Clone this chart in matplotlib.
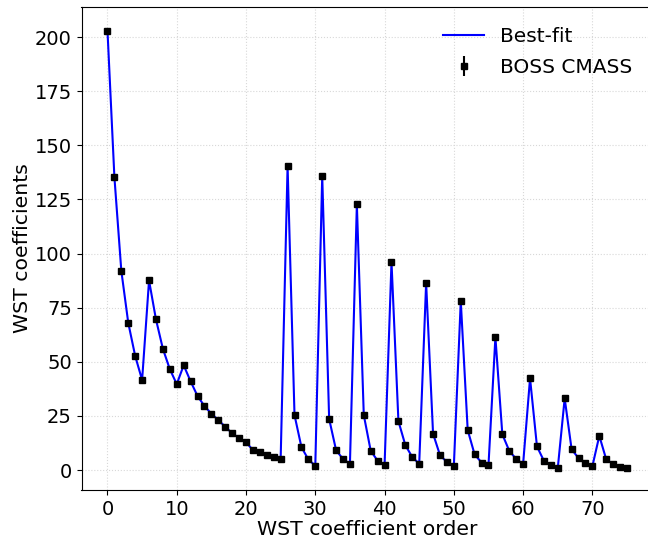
import matplotlib
matplotlib.use("Agg")
import matplotlib.pyplot as plt
import numpy as np

# WST coefficients
order = np.arange(76)
wst_data = [
    203.0, 135.3, 92.0, 68.0, 52.7, 41.6, 87.6, 69.6, 56.0, 46.6,
    39.7, 48.4, 41.0, 34.2, 29.6, 26.0, 23.1, 20.0, 17.0, 14.8,
    12.9, 9.2, 8.5, 7.1, 6.1, 5.2, 140.4, 25.4, 10.6, 4.9,
    2.0, 135.8, 23.6, 9.2, 5.1, 2.9, 122.7, 25.4, 8.9, 4.3,
    2.3, 96.1, 22.6, 11.5, 6.0, 2.9, 86.4, 16.8, 6.9, 3.7,
    1.8, 78.1, 18.5, 7.2, 3.5, 2.2, 61.4, 16.5, 8.9, 5.1,
    2.8, 42.4, 10.9, 4.3, 2.2, 0.8, 33.1, 9.6, 5.5, 3.2,
    1.8, 15.8, 4.9, 2.8, 1.4, 0.8,
]
wst_err = [0.3] * len(wst_data)
wst_fit = wst_data

fig = plt.figure(figsize=(6.48, 5.39), dpi=100)
ax = fig.add_axes([81.5 / 648, 1 - 490 / 539, (653 - 81.5) / 648, (490 - 7) / 539])

ax.plot(order, wst_fit, color="blue", lw=1.5, label="Best-fit", zorder=2)
ax.errorbar(order, wst_data, yerr=wst_err, fmt="s", color="black", ms=4.5,
            elinewidth=1.5, label="BOSS CMASS", zorder=3)

ax.set_xlabel("WST coefficient order", fontsize=14.7, labelpad=1)
ax.set_ylabel("WST coefficients", fontsize=14.7, labelpad=2)
ax.tick_params(labelsize=14)
ax.grid(True, color="#d8d8d8", ls=":", lw=0.8)
ax.set_axisbelow(True)
ax.set_ylim(-9.2, 213.9)
ax.set_xlim(-3.75, 78.75)
ax.legend(loc="upper right", fontsize=14.5, frameon=False,
          bbox_to_anchor=(0.995, 0.997), labelspacing=0.6)

fig.savefig("out.png", dpi=100)
